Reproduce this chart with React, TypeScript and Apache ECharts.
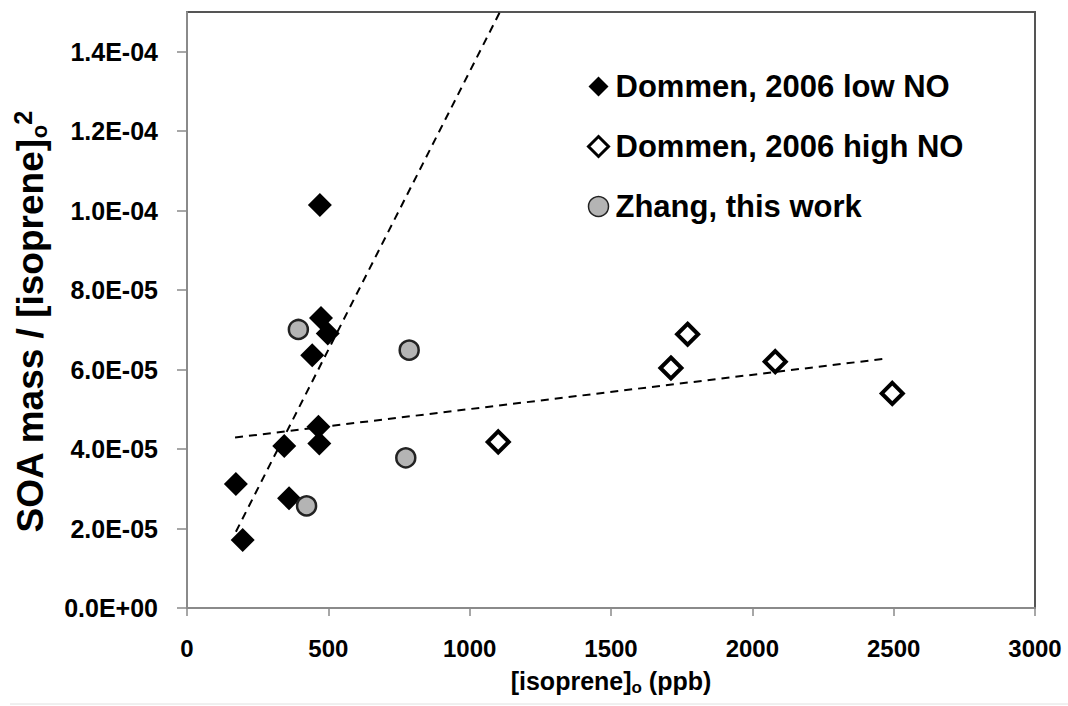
import React, { useEffect, useRef } from "react";
import * as echarts from "echarts";

const lowNO: [number, number][] = [
  [173, 3.12e-5],
  [197, 1.71e-5],
  [344, 4.08e-5],
  [361, 2.76e-5],
  [465, 4.56e-5],
  [468, 4.14e-5],
  [443, 6.36e-5],
  [498, 6.91e-5],
  [474, 7.3e-5],
  [470, 1.014e-4],
];

const highNO: [number, number][] = [
  [1101, 4.18e-5],
  [1712, 6.04e-5],
  [1771, 6.89e-5],
  [2081, 6.2e-5],
  [2495, 5.4e-5],
];

const zhang: [number, number][] = [
  [394, 7.01e-5],
  [786, 6.49e-5],
  [774, 3.78e-5],
  [423, 2.57e-5],
];

const lowNOTrend: [number, number][] = [
  [173, 1.92e-5],
  [1107, 1.5e-4],
];

const highNOTrend: [number, number][] = [
  [170, 4.29e-5],
  [2475, 6.28e-5],
];

const yTickLabels = [
  "0.0E+00",
  "2.0E-05",
  "4.0E-05",
  "6.0E-05",
  "8.0E-05",
  "1.0E-04",
  "1.2E-04",
  "1.4E-04",
];

const xTickLabels = ["0", "500", "1000", "1500", "2000", "2500", "3000"];

const legendNames = [
  "Dommen, 2006 low NO",
  "Dommen, 2006 high NO",
  "Zhang, this work",
];

const FONT = "'Liberation Sans', Arial, sans-serif";

export default function App() {
  const ref = useRef<HTMLDivElement>(null);

  useEffect(() => {
    if (!ref.current) return;
    const chart = echarts.init(ref.current, null, { renderer: "svg" });
    const option: any = {
      animation: false,
      backgroundColor: "#ffffff",
      grid: {
        left: 187,
        top: 12,
        right: 33,
        bottom: 98,
        show: true,
        borderColor: "#555555",
        borderWidth: 2,
        backgroundColor: "transparent",
      },
      legend: {
        orient: "vertical",
        left: 582,
        top: 66,
        itemWidth: 20,
        itemHeight: 20,
        itemGap: 29,
        selectedMode: false,
        textStyle: {
          fontFamily: FONT,
          fontWeight: "bold",
          fontSize: 31,
          lineHeight: 30,
          color: "#000",
          padding: [0, 0, 0, 2],
        },
        data: [
          {
            name: legendNames[0],
            icon: "diamond",
            itemStyle: { color: "#000", borderWidth: 0 },
          },
          {
            name: legendNames[1],
            icon: "diamond",
            itemStyle: { color: "#fff", borderColor: "#000", borderWidth: 3 },
          },
          {
            name: legendNames[2],
            icon: "circle",
            itemStyle: { color: "#b4b4b4", borderColor: "#222", borderWidth: 1.5 },
          },
        ],
      },
      xAxis: {
        type: "value",
        min: 0,
        max: 3000,
        interval: 500,
        name: "{b|[isoprene]}{sub|o}{b| (ppb)}",
        nameLocation: "middle",
        nameGap: 58,
        nameTextStyle: {
          rich: {
            b: {
              fontFamily: FONT,
              fontWeight: "bold",
              fontSize: 25,
              lineHeight: 30,
              color: "#000",
            },
            sub: {
              fontFamily: FONT,
              fontWeight: "bold",
              fontSize: 17,
              lineHeight: 17,
              verticalAlign: "bottom",
              color: "#000",
            },
          },
        },
        axisLine: { show: true, lineStyle: { color: "#8a8a8a", width: 2 } },
        axisTick: {
          show: true,
          inside: false,
          length: 8,
          lineStyle: { color: "#8a8a8a", width: 1.5 },
        },
        splitLine: { show: false },
        axisLabel: {
          margin: 28,
          fontFamily: FONT,
          fontWeight: "bold",
          fontSize: 24,
          color: "#000",
          formatter: (v: number) => xTickLabels[Math.round(v / 500)] ?? "",
        },
      },
      yAxis: {
        type: "value",
        min: 0,
        max: 1.5e-4,
        interval: 2e-5,
        name: "{b|SOA mass / [isoprene]}{sub|o}{sup|2}",
        nameLocation: "middle",
        nameGap: 137,
        nameRotate: 90,
        nameTextStyle: {
          padding: [0, 24, 0, 0],
          rich: {
            b: {
              fontFamily: FONT,
              fontWeight: "bold",
              fontSize: 37,
              lineHeight: 40,
              color: "#000",
            },
            sub: {
              fontFamily: FONT,
              fontWeight: "bold",
              fontSize: 22,
              lineHeight: 22,
              verticalAlign: "bottom",
              color: "#000",
            },
            sup: {
              fontFamily: FONT,
              fontWeight: "bold",
              fontSize: 25,
              lineHeight: 25,
              verticalAlign: "top",
              color: "#000",
            },
          },
        },
        axisLine: { show: true, lineStyle: { color: "#8a8a8a", width: 2 } },
        axisTick: {
          show: true,
          inside: false,
          length: 10,
          lineStyle: { color: "#8a8a8a", width: 1.5 },
        },
        splitLine: { show: false },
        axisLabel: {
          margin: 29,
          showMaxLabel: false,
          fontFamily: FONT,
          fontWeight: "bold",
          fontSize: 25,
          color: "#000",
          formatter: (v: number) => {
            const i = Math.round(v / 2e-5);
            if (Math.abs(v - i * 2e-5) > 1e-9) return "";
            return yTickLabels[i] ?? "";
          },
        },
      },
      series: [
        {
          type: "line",
          data: lowNOTrend,
          symbol: "none",
          clip: true,
          z: 1,
          lineStyle: { color: "#000", width: 2, type: [8, 6] },
          silent: true,
        },
        {
          type: "line",
          data: highNOTrend,
          symbol: "none",
          clip: true,
          z: 1,
          lineStyle: { color: "#000", width: 2, type: [8, 6] },
          silent: true,
        },
        {
          name: legendNames[0],
          type: "scatter",
          data: lowNO,
          symbol: "diamond",
          symbolSize: 24,
          z: 3,
          itemStyle: { color: "#000", opacity: 1 },
        },
        {
          name: legendNames[1],
          type: "scatter",
          data: highNO,
          symbol: "diamond",
          symbolSize: 21,
          z: 3,
          itemStyle: { color: "#fff", borderColor: "#000", borderWidth: 4, opacity: 1 },
        },
        {
          name: legendNames[2],
          type: "scatter",
          data: zhang,
          symbol: "circle",
          symbolSize: 19,
          z: 4,
          itemStyle: { color: "#b4b4b4", borderColor: "#222", borderWidth: 2.5, opacity: 1 },
        },
      ],
      graphic: [
        {
          type: "line",
          shape: { x1: 10, y1: 704, x2: 1068, y2: 704 },
          style: { stroke: "#e0e0e0", lineWidth: 1 },
          silent: true,
        },
      ],
    };
    chart.setOption(option);
    return () => chart.dispose();
  }, []);

  return (
    <div
      ref={ref}
      style={{ position: "fixed", left: 0, top: 0, width: 1068, height: 706 }}
    />
  );
}
